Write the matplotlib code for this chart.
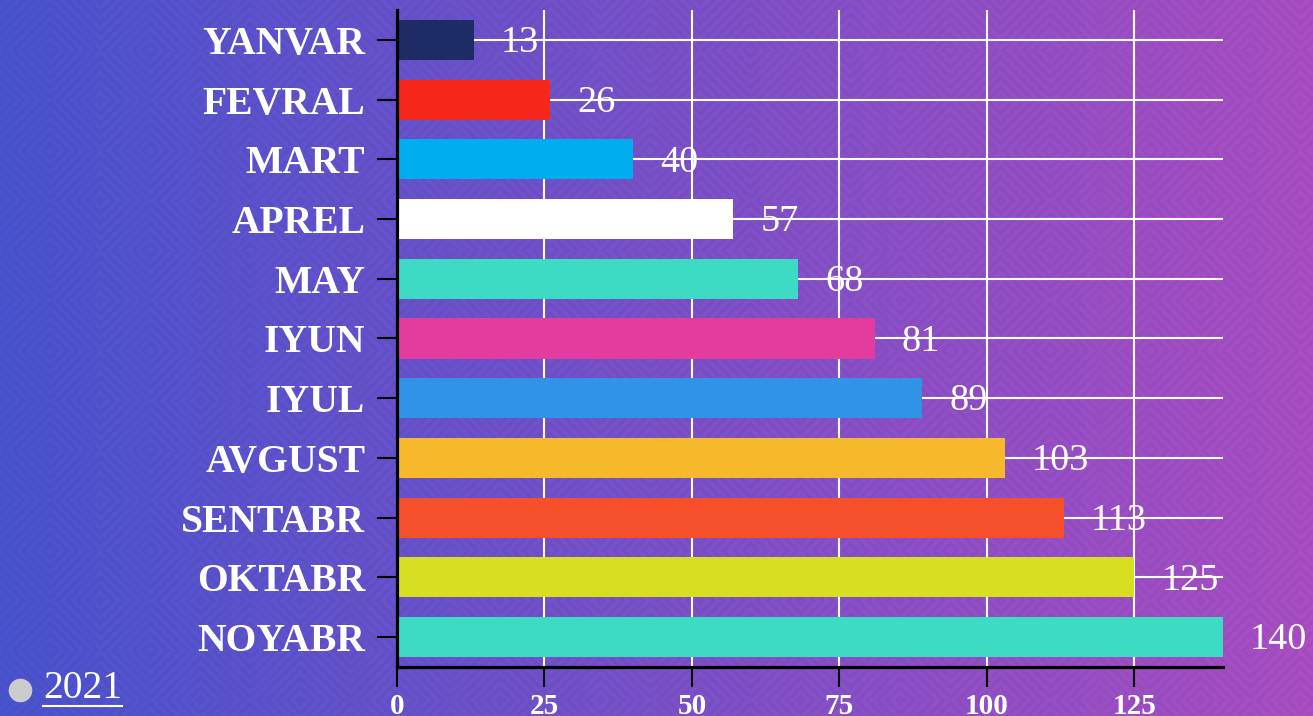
import numpy as np
import matplotlib
matplotlib.use('Agg')
import matplotlib.pyplot as plt
from matplotlib.lines import Line2D

plt.rcParams['font.family'] = ['Liberation Serif', 'DejaVu Serif']

# data
months = ['YANVAR', 'FEVRAL', 'MART', 'APREL', 'MAY', 'IYUN',
          'IYUL', 'AVGUST', 'SENTABR', 'OKTABR', 'NOYABR']
values = [13, 26, 40, 57, 68, 81, 89, 103, 113, 125, 140]
bar_colors = ['#1e2c66', '#f5261a', '#00aeef', '#ffffff', '#3ddbc3', '#e33c9e',
              '#3193e8', '#f6b92b', '#f54f2b', '#d8df20', '#3ddbc3']
xticks = [0, 25, 50, 75, 100, 125]
legend_label = '2021'

W, H = 1313, 716
fig = plt.figure(figsize=(W / 100, H / 100), dpi=100)

# background: blue -> purple gradient with faint diamond texture
bg = fig.add_axes([0, 0, 1, 1], zorder=-1)
bg.axis('off')
xx, yy = np.meshgrid(np.arange(W), np.arange(H))
t = (xx / W)[..., None]
c_left = np.array([74, 84, 208]) / 255.0
c_right = np.array([170, 78, 196]) / 255.0
img = c_left * (1 - t) + c_right * t
tile = 100
dx = np.abs((xx % tile) - tile / 2)
dy = np.abs((yy % tile) - tile / 2)
stripe = ((dx + dy) // 5) % 2
img = img * (1 - 0.035 * stripe[..., None])
bg.imshow(img, aspect='auto', extent=[0, 1, 0, 1], interpolation='bilinear')
bg.set_xlim(0, 1)
bg.set_ylim(0, 1)

# main chart
ax = fig.add_axes([397 / W, 1 - 667 / H, (1223 - 397) / W, (667 - 10) / H])
ax.patch.set_alpha(0)
y = np.arange(len(months))
ax.barh(y, values, height=0.67, color=bar_colors, zorder=2)
for yi, v in zip(y, values):
    ax.annotate(str(v), (v, yi), xytext=(27, -3), textcoords='offset pixels',
                ha='left', va='center', color='white', fontsize=27.5, zorder=4,
                annotation_clip=False)

ax.set_xlim(0, 140)
ax.set_ylim(len(months) - 0.5, -0.5)
ax.set_yticks(y)
ax.set_yticklabels(months, fontsize=28.5, fontweight='bold', color='white')
ax.set_xticks(xticks)
ax.set_xticklabels([str(x) for x in xticks], fontsize=21, fontweight='bold', color='white')
ax.tick_params(axis='y', length=14.4, width=1.5, color='black', pad=8.5)
ax.tick_params(axis='x', length=14.4, width=1.5, color='black', pad=4)
ax.grid(True, color='white', linewidth=1.5, zorder=1)
ax.set_axisbelow(True)
for s in ['top', 'right']:
    ax.spines[s].set_visible(False)
for s in ['left', 'bottom']:
    ax.spines[s].set_linewidth(2.3)
    ax.spines[s].set_color('black')
    ax.spines[s].set_zorder(5)

# legend: grey dot + underlined year
fig.add_artist(Line2D([20 / W], [1 - 690 / H], marker='o', markersize=17,
                      markerfacecolor='#cccccc', markeredgecolor='none',
                      linestyle='none', transform=fig.transFigure))
txt = fig.text(43 / W, 1 - 689 / H, legend_label, fontsize=28.5, color='white',
               ha='left', va='center')
fig.canvas.draw()
bb = txt.get_window_extent(fig.canvas.get_renderer())
fig.add_artist(Line2D([bb.x0 / W, bb.x1 / W], [(H - 706) / H, (H - 706) / H],
                      color='white', linewidth=1.5, transform=fig.transFigure))

fig.savefig('out.png', dpi=100)
plt.close()
